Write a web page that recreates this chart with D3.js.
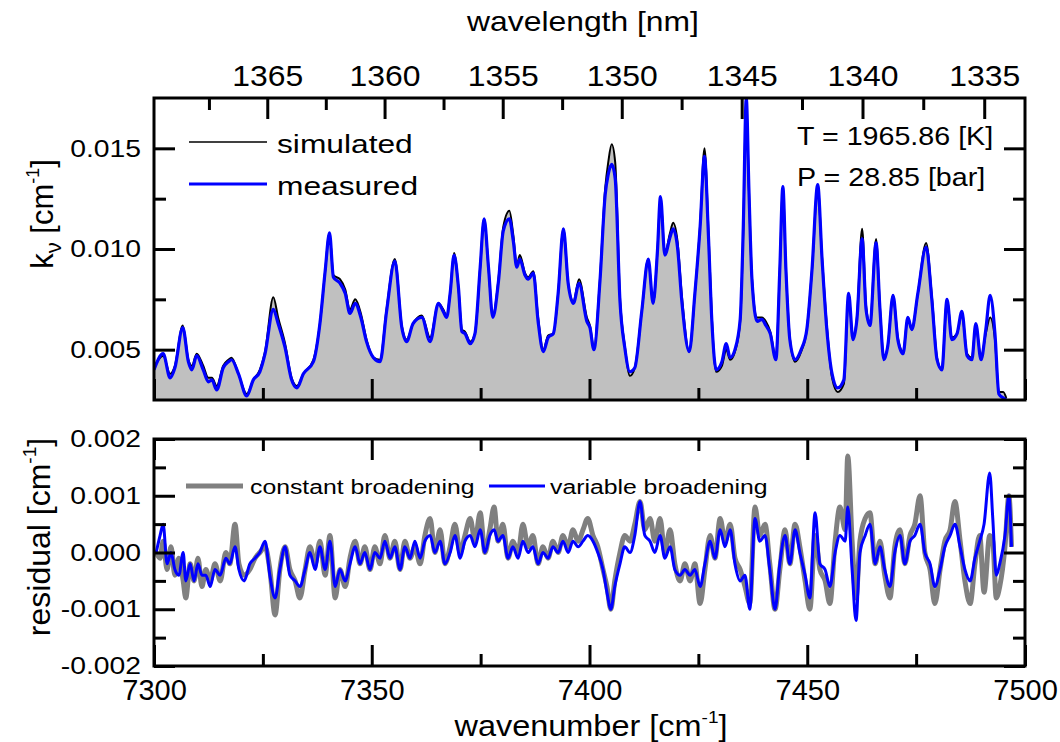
<!DOCTYPE html>
<html>
<head>
<meta charset="utf-8">
<script src="https://cdn.jsdelivr.net/npm/d3@7"></script>
<style>
  body { margin: 0; background: #fff; }
  svg text { font-family: "Liberation Sans", Arial, sans-serif; fill: #000; }
</style>
</head>
<body>
<svg id="chart" width="1060" height="742"></svg>
<script>
// ---- absorption spectrum (top panel) ----
const wavenumber = [
  7300.0, 7302.1, 7303.7, 7304.8, 7306.6, 7307.9, 7308.7, 7309.8, 7311.3, 7312.5,
  7313.3, 7314.4, 7315.9, 7317.1, 7317.8, 7319.4, 7321.3, 7322.8, 7324.3, 7325.5,
  7327.4, 7328.5, 7330.1, 7331.6, 7332.8, 7334.3, 7336.6, 7338.1, 7339.3, 7340.3,
  7341.2, 7342.7, 7343.9, 7345.0, 7346.2, 7347.5, 7348.8, 7350.4, 7351.9, 7353.4,
  7355.3, 7356.9, 7358.0, 7359.5, 7361.5, 7363.4, 7365.3, 7366.4, 7367.2, 7368.0,
  7368.9, 7369.9, 7370.7, 7371.4, 7372.6, 7373.7, 7374.9, 7375.8, 7376.8, 7377.8,
  7379.1, 7380.2, 7381.6, 7382.5, 7383.3, 7384.0, 7385.2, 7385.9, 7387.1, 7388.2,
  7389.4, 7390.5, 7391.7, 7392.8, 7394.0, 7395.1, 7396.3, 7397.6, 7399.4, 7400.1,
  7401.0, 7402.4, 7403.6, 7404.3, 7405.1, 7405.9, 7407.0, 7408.1, 7409.3, 7410.4,
  7412.0, 7413.5, 7414.6, 7415.6, 7416.3, 7417.3, 7418.5, 7419.2, 7420.2, 7421.2,
  7422.9, 7424.2, 7425.4, 7426.4, 7427.3, 7428.1, 7429.1, 7430.4, 7431.4, 7432.3,
  7433.4, 7434.6, 7435.3, 7436.0, 7436.6, 7437.3, 7438.5, 7439.6, 7440.5, 7441.5,
  7442.8, 7443.7, 7444.4, 7445.1, 7446.0, 7447.2, 7448.6, 7449.9, 7451.1, 7452.4,
  7453.4, 7454.5, 7455.7, 7457.0, 7458.4, 7459.5, 7460.5, 7461.4, 7462.6, 7463.5,
  7464.4, 7465.8, 7466.7, 7467.6, 7468.5, 7469.7, 7470.8, 7472.0, 7473.1, 7474.0,
  7475.4, 7477.3, 7478.6, 7479.8, 7480.9, 7482.1, 7483.2, 7484.4, 7485.5, 7486.7,
  7487.8, 7488.7, 7489.9, 7491.0, 7492.0, 7493.1, 7494.0, 7495.0, 7495.7
];
const measured = [
  0.0040, 0.0048, 0.0036, 0.0041, 0.0061, 0.0044, 0.0040, 0.0047, 0.0040, 0.0034,
  0.0035, 0.0030, 0.0041, 0.0044, 0.0045, 0.0038, 0.0027, 0.0035, 0.0039, 0.0048,
  0.0070, 0.0063, 0.0051, 0.0035, 0.0031, 0.0038, 0.0044, 0.0063, 0.0089, 0.0108,
  0.0086, 0.0083, 0.0078, 0.0068, 0.0073, 0.0066, 0.0054, 0.0046, 0.0044, 0.0069,
  0.0094, 0.0061, 0.0054, 0.0063, 0.0066, 0.0054, 0.0073, 0.0069, 0.0066, 0.0078,
  0.0097, 0.0081, 0.0059, 0.0058, 0.0053, 0.0058, 0.0091, 0.0115, 0.0091, 0.0066,
  0.0084, 0.0109, 0.0115, 0.0104, 0.0091, 0.0095, 0.0087, 0.0085, 0.0088, 0.0064,
  0.0049, 0.0056, 0.0058, 0.0078, 0.0110, 0.0083, 0.0073, 0.0083, 0.0064, 0.0061,
  0.0050, 0.0084, 0.0127, 0.0137, 0.0142, 0.0135, 0.0074, 0.0051, 0.0039, 0.0041,
  0.0069, 0.0095, 0.0073, 0.0099, 0.0126, 0.0097, 0.0106, 0.0110, 0.0101, 0.0074,
  0.0049, 0.0078, 0.0111, 0.0146, 0.0107, 0.0064, 0.0040, 0.0044, 0.0053, 0.0046,
  0.0050, 0.0065, 0.0110, 0.0175, 0.0130, 0.0085, 0.0064, 0.0065, 0.0062, 0.0058,
  0.0045, 0.0090, 0.0131, 0.0090, 0.0055, 0.0045, 0.0050, 0.0060, 0.0090, 0.0132,
  0.0095, 0.0060, 0.0038, 0.0031, 0.0035, 0.0078, 0.0055, 0.0065, 0.0105, 0.0070,
  0.0062, 0.0103, 0.0070, 0.0045, 0.0052, 0.0077, 0.0055, 0.0048, 0.0066, 0.0060,
  0.0078, 0.0101, 0.0075, 0.0045, 0.0040, 0.0075, 0.0055, 0.0058, 0.0069, 0.0047,
  0.0045, 0.0063, 0.0045, 0.0060, 0.0077, 0.0058, 0.0028, 0.0026, 0.0025
];
const simulated = [
  0.0041, 0.0047, 0.0038, 0.0042, 0.0062, 0.0045, 0.0042, 0.0048, 0.0042, 0.0036,
  0.0036, 0.0032, 0.0042, 0.0045, 0.0046, 0.0038, 0.0028, 0.0035, 0.0040, 0.0049,
  0.0076, 0.0066, 0.0053, 0.0036, 0.0032, 0.0038, 0.0045, 0.0063, 0.0089, 0.0108,
  0.0087, 0.0085, 0.0080, 0.0070, 0.0075, 0.0068, 0.0055, 0.0046, 0.0045, 0.0070,
  0.0095, 0.0062, 0.0055, 0.0063, 0.0067, 0.0056, 0.0073, 0.0070, 0.0067, 0.0078,
  0.0098, 0.0081, 0.0060, 0.0059, 0.0054, 0.0058, 0.0091, 0.0115, 0.0091, 0.0067,
  0.0085, 0.0111, 0.0119, 0.0107, 0.0092, 0.0097, 0.0088, 0.0086, 0.0089, 0.0066,
  0.0050, 0.0057, 0.0058, 0.0078, 0.0110, 0.0083, 0.0074, 0.0085, 0.0066, 0.0062,
  0.0051, 0.0085, 0.0130, 0.0143, 0.0152, 0.0143, 0.0076, 0.0052, 0.0037, 0.0041,
  0.0069, 0.0095, 0.0073, 0.0099, 0.0126, 0.0098, 0.0108, 0.0113, 0.0104, 0.0077,
  0.0049, 0.0078, 0.0112, 0.0150, 0.0110, 0.0066, 0.0039, 0.0042, 0.0050, 0.0045,
  0.0049, 0.0064, 0.0108, 0.0173, 0.0130, 0.0086, 0.0066, 0.0066, 0.0064, 0.0059,
  0.0046, 0.0090, 0.0130, 0.0090, 0.0056, 0.0044, 0.0049, 0.0060, 0.0090, 0.0131,
  0.0096, 0.0062, 0.0036, 0.0029, 0.0033, 0.0077, 0.0056, 0.0066, 0.0110, 0.0072,
  0.0063, 0.0105, 0.0071, 0.0046, 0.0052, 0.0077, 0.0056, 0.0049, 0.0066, 0.0060,
  0.0078, 0.0103, 0.0077, 0.0046, 0.0040, 0.0075, 0.0056, 0.0058, 0.0068, 0.0048,
  0.0046, 0.0062, 0.0046, 0.0058, 0.0066, 0.0055, 0.0029, 0.0029, 0.0026
];

// ---- fit residuals (bottom panel) ----
const residualWavenumber = [
  7300.5, 7301.4, 7302.1, 7303.0, 7303.9, 7304.8, 7305.7, 7306.7, 7307.3, 7308.3,
  7309.2, 7310.1, 7311.0, 7311.9, 7312.9, 7314.0, 7315.2, 7316.5, 7317.4, 7318.6,
  7319.5, 7320.7, 7322.0, 7323.2, 7324.3, 7325.5, 7326.6, 7327.8, 7328.9, 7330.1,
  7331.2, 7332.4, 7333.5, 7334.7, 7335.8, 7337.0, 7338.1, 7339.3, 7340.4, 7341.6,
  7342.7, 7343.9, 7345.0, 7346.2, 7347.3, 7348.4, 7349.6, 7350.7, 7351.9, 7353.0,
  7354.2, 7355.3, 7356.5, 7357.6, 7358.8, 7359.9, 7361.1, 7362.2, 7363.4, 7364.5,
  7365.7, 7366.8, 7368.0, 7369.1, 7370.3, 7371.4, 7372.6, 7373.7, 7374.9, 7376.0,
  7377.1, 7378.1, 7379.0, 7380.1, 7381.3, 7382.4, 7383.6, 7384.7, 7385.9, 7387.0,
  7388.2, 7389.3, 7390.5, 7391.6, 7392.8, 7393.9, 7395.1, 7396.2, 7397.4, 7398.5,
  7399.6, 7400.8, 7401.9, 7403.1, 7404.0, 7404.9, 7405.8, 7407.0, 7408.1, 7409.3,
  7410.4, 7411.6, 7412.7, 7413.9, 7415.0, 7416.2, 7417.3, 7418.5, 7419.6, 7420.8,
  7421.9, 7423.1, 7424.2, 7425.4, 7426.5, 7427.7, 7428.8, 7430.0, 7431.1, 7432.3,
  7433.4, 7434.6, 7435.7, 7436.8, 7438.0, 7439.1, 7440.3, 7441.4, 7442.6, 7443.7,
  7444.9, 7446.0, 7447.2, 7448.3, 7449.5, 7450.6, 7451.8, 7452.9, 7454.1, 7455.2,
  7456.4, 7457.5, 7458.7, 7459.3, 7460.3, 7461.2, 7462.1, 7463.3, 7464.4, 7465.6,
  7466.7, 7467.8, 7469.0, 7470.1, 7471.3, 7472.4, 7473.6, 7474.7, 7475.9, 7477.0,
  7478.2, 7479.3, 7480.5, 7481.6, 7482.8, 7483.9, 7485.1, 7486.2, 7487.4, 7488.5,
  7489.6, 7490.6, 7491.9, 7492.6, 7493.4, 7494.2, 7495.4, 7496.3, 7496.9
];
const constantBroadening = [
  0.0000, -0.0001, 0.0002, -0.0003, 0.0001, -0.0004, -0.0001, -0.0005, -0.0008, -0.0002,
  -0.0005, -0.0001, -0.0006, -0.0003, -0.0005, -0.0002, -0.0005, 0.0000, -0.0002, 0.0005,
  -0.0002, -0.0004, -0.0003, -0.0001, 0.0000, 0.0001, -0.0003, -0.0011, -0.0003, 0.0001,
  -0.0003, -0.0005, -0.0008, -0.0003, 0.0001, -0.0002, 0.0002, -0.0004, 0.0003, -0.0008,
  -0.0003, -0.0006, -0.0001, 0.0002, -0.0002, 0.0001, -0.0003, 0.0001, -0.0002, 0.0003,
  -0.0001, 0.0002, -0.0003, 0.0002, -0.0001, 0.0001, -0.0002, 0.0003, 0.0006, 0.0000,
  0.0004, -0.0002, 0.0001, 0.0005, 0.0000, 0.0003, 0.0006, 0.0002, 0.0007, 0.0000,
  0.0004, 0.0008, 0.0002, 0.0005, -0.0001, 0.0002, 0.0000, 0.0005, 0.0001, 0.0003,
  -0.0002, 0.0001, -0.0001, 0.0002, 0.0000, 0.0003, 0.0001, 0.0004, 0.0002, 0.0004,
  0.0006, 0.0003, 0.0001, -0.0003, -0.0006, -0.0010, -0.0005, 0.0000, 0.0003, 0.0002,
  0.0005, 0.0009, 0.0004, 0.0006, 0.0002, 0.0006, 0.0000, 0.0004, -0.0002, -0.0005,
  -0.0002, -0.0005, -0.0002, -0.0009, -0.0003, 0.0003, -0.0001, 0.0006, 0.0002, 0.0005,
  -0.0001, -0.0003, -0.0006, -0.0009, 0.0008, 0.0003, 0.0005, -0.0002, -0.0010, -0.0003,
  0.0004, -0.0002, 0.0005, 0.0001, -0.0005, -0.0010, 0.0003, -0.0003, -0.0005, -0.0009,
  0.0002, 0.0008, 0.0004, 0.0017, 0.0002, -0.0008, 0.0002, 0.0006, 0.0007, -0.0002,
  0.0002, -0.0004, -0.0008, 0.0001, 0.0004, -0.0002, 0.0003, 0.0005, 0.0010, 0.0000,
  -0.0003, -0.0009, -0.0003, 0.0002, 0.0004, 0.0009, 0.0002, -0.0005, -0.0009, -0.0002,
  0.0003, -0.0007, 0.0003, 0.0002, -0.0008, -0.0006, 0.0001, 0.0010, 0.0001
];
const variableBroadening = [
  0.0000, 0.0003, 0.0005, -0.0002, 0.0000, -0.0003, -0.0004, 0.0000, -0.0005, -0.0002,
  -0.0005, -0.0002, -0.0004, -0.0004, -0.0006, -0.0003, -0.0004, -0.0001, -0.0002, 0.0001,
  -0.0003, -0.0005, -0.0002, -0.0001, 0.0000, 0.0002, -0.0004, -0.0008, -0.0003, 0.0001,
  -0.0004, -0.0005, -0.0006, -0.0003, 0.0000, -0.0003, 0.0001, -0.0003, 0.0002, -0.0006,
  -0.0003, -0.0005, -0.0002, 0.0001, -0.0002, 0.0000, -0.0003, 0.0000, -0.0001, 0.0002,
  -0.0001, 0.0001, -0.0003, 0.0001, -0.0001, 0.0002, -0.0001, 0.0002, 0.0003, 0.0000,
  0.0002, -0.0002, 0.0000, 0.0003, -0.0001, 0.0002, 0.0003, 0.0001, 0.0004, 0.0000,
  0.0003, 0.0004, 0.0002, 0.0003, -0.0001, 0.0001, -0.0001, 0.0002, 0.0000, 0.0001,
  -0.0002, 0.0000, -0.0001, 0.0001, 0.0000, 0.0002, 0.0000, 0.0002, 0.0001, 0.0002,
  0.0003, 0.0002, 0.0000, -0.0003, -0.0007, -0.0010, -0.0006, -0.0002, 0.0001, 0.0000,
  0.0003, 0.0009, 0.0003, 0.0002, 0.0000, 0.0003, -0.0001, 0.0001, -0.0003, -0.0004,
  -0.0003, -0.0004, -0.0003, -0.0006, -0.0002, 0.0002, -0.0001, 0.0004, 0.0001, 0.0004,
  -0.0002, -0.0005, -0.0004, -0.0010, 0.0006, 0.0002, 0.0003, -0.0003, -0.0010, -0.0002,
  0.0003, -0.0002, 0.0004, 0.0000, -0.0004, -0.0008, 0.0007, -0.0002, -0.0003, -0.0006,
  0.0000, 0.0003, 0.0002, 0.0008, -0.0003, -0.0012, 0.0000, 0.0003, 0.0005, -0.0002,
  0.0001, -0.0003, -0.0006, 0.0000, 0.0003, -0.0002, 0.0002, 0.0003, 0.0005, 0.0000,
  -0.0002, -0.0006, -0.0003, 0.0001, 0.0003, 0.0005, 0.0001, -0.0003, -0.0005, -0.0001,
  0.0002, 0.0005, 0.0014, 0.0006, -0.0004, -0.0002, 0.0003, 0.0010, 0.0001
];

// ---- axis tick values ----
const wavenumberMajor = [7300, 7350, 7400, 7450, 7500];
const wavenumberMinor = [7325, 7375, 7425, 7475];
const wavelengthMajor = [1365, 1360, 1355, 1350, 1345, 1340, 1335];
const wavelengthMinor = [1367.5, 1362.5, 1357.5, 1352.5, 1347.5, 1342.5, 1337.5];
const kMajor = [0.005, 0.010, 0.015];
const kMinor = [0.0075, 0.0125];
const residMajor = [-0.002, -0.001, 0.000, 0.001, 0.002];
const residMinor = [-0.0015, -0.0005, 0.0005, 0.0015];

const legendTop = ["simulated", "measured"];
const legendBottom = ["constant broadening", "variable broadening"];
const conditions = ["T = 1965.86 [K]", "P = 28.85 [bar]"];

// ---- layout ----
const svg = d3.select("#chart");
const L = 154, R = 1025;
const top1 = 98, bot1 = 400, top2 = 439, bot2 = 666;
const SX = 1.18;          // horizontal stretch of the lettering
const MAJ = 21, MIN = 12; // tick lengths

const x = d3.scaleLinear().domain([7300, 7500]).range([L, R]);
const yK = d3.scaleLinear().domain([0.0025, 0.0175]).range([bot1, top1]);
const yR = d3.scaleLinear().domain([-0.002, 0.002]).range([bot2, top2]);

const defs = svg.append("defs");
defs.append("clipPath").attr("id", "clipTop")
  .append("rect").attr("x", L).attr("y", top1).attr("width", R - L).attr("height", bot1 - top1);
defs.append("clipPath").attr("id", "clipBot")
  .append("rect").attr("x", L).attr("y", top2).attr("width", R - L).attr("height", bot2 - top2);

// ---- top panel curves ----
const spec = wavenumber.map((w, i) => ({ w, m: measured[i], s: simulated[i] }));
const gTop = svg.append("g").attr("clip-path", "url(#clipTop)");
gTop.append("path").datum(spec)
  .attr("fill", "#c0c0c0")
  .attr("d", d3.area().curve(d3.curveMonotoneX).x(d => x(d.w)).y0(bot1).y1(d => yK(d.s)));
gTop.append("path").datum(spec)
  .attr("fill", "none").attr("stroke", "#000").attr("stroke-width", 2)
  .attr("d", d3.line().curve(d3.curveMonotoneX).x(d => x(d.w)).y(d => yK(d.s)));
gTop.append("path").datum(spec)
  .attr("fill", "none").attr("stroke", "#0000ff").attr("stroke-width", 3.2)
  .attr("stroke-linejoin", "round")
  .attr("d", d3.line().curve(d3.curveMonotoneX).x(d => x(d.w)).y(d => yK(d.m)));

// ---- bottom panel curves ----
const resid = residualWavenumber.map((w, i) => ({ w, c: constantBroadening[i], v: variableBroadening[i] }));
const gBot = svg.append("g").attr("clip-path", "url(#clipBot)");
gBot.append("path").datum(resid)
  .attr("fill", "none").attr("stroke", "#808080").attr("stroke-width", 5)
  .attr("stroke-linejoin", "round")
  .attr("d", d3.line().curve(d3.curveMonotoneX).x(d => x(d.w)).y(d => yR(d.c)));
gBot.append("path").datum(resid)
  .attr("fill", "none").attr("stroke", "#0000ff").attr("stroke-width", 3)
  .attr("stroke-linejoin", "round")
  .attr("d", d3.line().curve(d3.curveMonotoneX).x(d => x(d.w)).y(d => yR(d.v)));

// ---- axes: inward ticks, frame drawn separately ----
function ticks(axisFn, scale, values, len, tx, ty, fmt, fontSize, pad) {
  const ax = axisFn(scale).tickValues(values).tickSize(-len).tickPadding(pad || 0)
    .tickFormat(fmt || (() => ""));
  const g = svg.append("g").attr("transform", `translate(${tx},${ty})`).call(ax);
  g.select(".domain").remove();
  g.selectAll(".tick line").attr("stroke", "#000").attr("stroke-width", 3);
  g.selectAll(".tick text")
    .attr("font-size", fontSize || 10)
    .attr("font-family", '"Liberation Sans", Arial, sans-serif')
    .attr("fill", "#000");
  return g;
}
const nuFmt = d => String(d);
const kFmt = d => d.toFixed(3);
const rFmt = d => d.toFixed(3);
const lamPos = l => 1e7 / l;

// top panel
ticks(d3.axisBottom, x, wavenumberMajor, MAJ, 0, bot1);
ticks(d3.axisBottom, x, wavenumberMinor, MIN, 0, bot1);
const topLab = ticks(d3.axisTop, x, wavelengthMajor.map(lamPos), MAJ, 0, top1,
  d => String(Math.round(1e7 / d)), 29, 12);
ticks(d3.axisTop, x, wavelengthMinor.map(lamPos), MIN, 0, top1);
const leftK = ticks(d3.axisLeft, yK, kMajor, MAJ, L, 0, kFmt, 24, 11);
ticks(d3.axisLeft, yK, kMinor, MIN, L, 0);
ticks(d3.axisRight, yK, kMajor, MAJ, R, 0);
ticks(d3.axisRight, yK, kMinor, MIN, R, 0);

// bottom panel
const botLab = ticks(d3.axisBottom, x, wavenumberMajor, MAJ, 0, bot2, nuFmt, 29, 13);
ticks(d3.axisBottom, x, wavenumberMinor, MIN, 0, bot2);
ticks(d3.axisTop, x, wavenumberMajor, MAJ, 0, top2);
ticks(d3.axisTop, x, wavenumberMinor, MIN, 0, top2);
const leftR = ticks(d3.axisLeft, yR, residMajor, MAJ, L, 0, rFmt, 24, 11);
ticks(d3.axisLeft, yR, residMinor, MIN, L, 0);
ticks(d3.axisRight, yR, residMajor, MAJ, R, 0);
ticks(d3.axisRight, yR, residMinor, MIN, R, 0);

// widen the lettering horizontally
topLab.selectAll(".tick text").attr("transform", "scale(1.1,1)");
[leftK, leftR].forEach(g =>
  g.selectAll(".tick text").attr("transform", `scale(${SX},1)`));

// frames
[[top1, bot1], [top2, bot2]].forEach(([t, b]) =>
  svg.append("rect").attr("x", L).attr("y", t).attr("width", R - L).attr("height", b - t)
    .attr("fill", "none").attr("stroke", "#000").attr("stroke-width", 3));

// ---- text helpers ----
function text(x0, y0, size, anchor, sx) {
  return svg.append("text")
    .attr("transform", `translate(${x0},${y0}) scale(${sx},1)`)
    .attr("font-size", size).attr("text-anchor", anchor);
}

// axis titles
text(583, 31, 27, "middle", SX).text("wavelength [nm]");
const xt = text(591, 736, 29, "middle", 1.12);
xt.append("tspan").text("wavenumber [cm");
xt.append("tspan").attr("font-size", 17).attr("dy", -13).text("-1");
xt.append("tspan").attr("dy", 13).text("]");

const yt1 = svg.append("text")
  .attr("transform", "translate(53,214) rotate(-90)")
  .attr("font-size", 31).attr("text-anchor", "middle");
yt1.append("tspan").text("k");
yt1.append("tspan").attr("font-size", 22).attr("dy", 8).text("ν");
yt1.append("tspan").attr("dy", -8).text(" [cm");
yt1.append("tspan").attr("font-size", 18).attr("dy", -14).text("-1");
yt1.append("tspan").attr("dy", 14).text("]");

const yt2 = svg.append("text")
  .attr("transform", "translate(50,537) rotate(-90)")
  .attr("font-size", 32).attr("text-anchor", "middle");
yt2.append("tspan").text("residual [cm");
yt2.append("tspan").attr("font-size", 19).attr("dy", -14).text("-1");
yt2.append("tspan").attr("dy", 14).text("]");

// top legend
svg.append("line").attr("x1", 189).attr("x2", 267).attr("y1", 142).attr("y2", 142)
  .attr("stroke", "#000").attr("stroke-width", 1.5);
svg.append("line").attr("x1", 189).attr("x2", 267).attr("y1", 184).attr("y2", 184)
  .attr("stroke", "#0000ff").attr("stroke-width", 3);
text(277, 153, 26, "start", 1.22).text(legendTop[0]);
text(277, 195, 26, "start", 1.22).text(legendTop[1]);

// fit conditions
text(797, 145, 25.6, "start", 1.12).text(conditions[0]);
text(797, 186, 25.6, "start", 1.12).text(conditions[1]);

// bottom legend
svg.append("line").attr("x1", 186).attr("x2", 243).attr("y1", 486).attr("y2", 486)
  .attr("stroke", "#808080").attr("stroke-width", 5);
svg.append("line").attr("x1", 489).attr("x2", 545).attr("y1", 486).attr("y2", 486)
  .attr("stroke", "#0000ff").attr("stroke-width", 3);
text(250, 494, 21, "start", SX).text(legendBottom[0]);
text(550, 494, 21, "start", SX).text(legendBottom[1]);
</script>
</body>
</html>
